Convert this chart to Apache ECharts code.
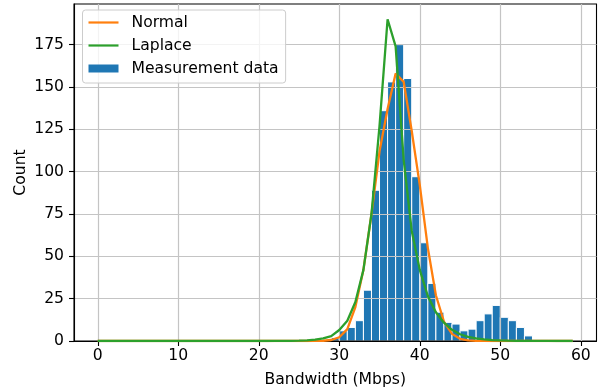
<!DOCTYPE html>
<html>
<head>
<meta charset="utf-8">
<script src="https://cdn.jsdelivr.net/npm/echarts@6/dist/echarts.min.js"></script>
<style>
  html, body { margin: 0; padding: 0; background: #fff; }
  #chart { width: 598px; height: 390px; }
</style>
</head>
<body>
<div id="chart"></div>
<script>
// Histogram bins (1 Mbps wide): left edges and counts
const binStarts = [29, 30, 31, 32, 33, 34, 35, 36, 37, 38, 39, 40, 41, 42, 43, 44, 45, 46, 47, 48, 49, 50, 51, 52, 53];
const binCounts = [2, 6, 8, 12, 30, 89, 136, 153, 175, 155, 97, 58, 34, 17, 11, 10, 6, 7, 12, 16, 21, 14, 12, 8, 3];

// Fitted curves evaluated at integer bandwidths 0..59
const xs = [0, 1, 2, 3, 4, 5, 6, 7, 8, 9, 10, 11, 12, 13, 14, 15, 16, 17, 18, 19,
            20, 21, 22, 23, 24, 25, 26, 27, 28, 29, 30, 31, 32, 33, 34, 35, 36, 37, 38, 39,
            40, 41, 42, 43, 44, 45, 46, 47, 48, 49, 50, 51, 52, 53, 54, 55, 56, 57, 58, 59];
const normalFit = [0, 0, 0, 0, 0, 0, 0, 0, 0, 0, 0, 0, 0, 0, 0, 0, 0, 0, 0, 0,
                   0, 0, 0, 0, 0, 0, 0.01, 0.03, 0.15, 0.6, 2.2, 7, 20, 42, 75, 112, 137, 158, 153, 124,
                   92, 55, 27, 11.5, 4.2, 1.3, 0.4, 0.1, 0.02, 0, 0, 0, 0, 0, 0, 0, 0, 0, 0, 0];
const laplaceFit = [0, 0, 0, 0, 0, 0, 0, 0, 0, 0, 0, 0, 0, 0, 0, 0, 0, 0, 0, 0,
                    0, 0.01, 0.03, 0.05, 0.1, 0.2, 0.4, 0.8, 1.5, 2.9, 6.5, 12, 23, 42, 75, 127, 190, 174, 107, 65,
                    42, 26.5, 17, 10.8, 6.6, 4, 2.4, 1.5, 0.9, 0.55, 0.33, 0.2, 0.12, 0.07, 0.04, 0.03, 0.02, 0.01, 0.01, 0];

const xTicks = [0, 10, 20, 30, 40, 50, 60];
const yTicks = [0, 25, 50, 75, 100, 125, 150, 175];

const FONT = 'DejaVu Sans';
const FS = 15.6;

const chart = echarts.init(document.getElementById('chart'), null, { renderer: 'canvas' });

const option = {
  animation: false,
  backgroundColor: '#ffffff',
  grid: {
    left: 74, right: 1.5, top: 4, bottom: 49,
    outerBoundsMode: 'none', containLabel: false,
    show: true, borderColor: '#000', borderWidth: 1.1, backgroundColor: 'transparent'
  },
  legend: {
    orient: 'vertical',
    left: 82.5, top: 10,
    padding: [4, 7, 6, 6],
    itemGap: 6,
    itemWidth: 30, itemHeight: 8,
    backgroundColor: 'rgba(255,255,255,0.8)',
    borderColor: '#cccccc', borderWidth: 1, borderRadius: 3,
    textStyle: { fontFamily: FONT, fontSize: FS, color: '#000', lineHeight: 17, padding: [0, 0, 0, 8] },
    data: [
      { name: 'Normal', icon: 'path://M0,0H30V2.2H0Z' },
      { name: 'Laplace', icon: 'path://M0,0H30V2.2H0Z' },
      { name: 'Measurement data', icon: 'rect' }
    ]
  },
  xAxis: {
    type: 'value',
    min: -2.95, max: 61.95,
    name: 'Bandwidth (Mbps)',
    nameLocation: 'middle', nameGap: 31, nameMoveOverlap: false,
    nameTextStyle: { fontFamily: FONT, fontSize: FS, color: '#000' },
    axisLine: { onZero: false, lineStyle: { color: '#000', width: 1.1 } },
    axisTick: { show: true, inside: false, length: 5, lineStyle: { color: '#000', width: 1.1 }, customValues: xTicks },
    axisLabel: { fontFamily: FONT, fontSize: FS, color: '#000', margin: 7, customValues: xTicks },
    splitLine: { show: true, lineStyle: { color: '#c4c4c4', width: 1.2 } }
  },
  yAxis: {
    type: 'value',
    min: 0, max: 199, interval: 25,
    name: 'Count',
    nameLocation: 'middle', nameGap: 45, nameRotate: 90, nameMoveOverlap: false,
    nameTextStyle: { fontFamily: FONT, fontSize: FS, color: '#000' },
    axisLine: { show: true, onZero: false, lineStyle: { color: '#000', width: 1.1 } },
    axisTick: { show: true, inside: false, length: 5, lineStyle: { color: '#000', width: 1.1 }, customValues: yTicks },
    axisLabel: { fontFamily: FONT, fontSize: FS, color: '#000', margin: 10, customValues: yTicks },
    splitLine: { show: true, lineStyle: { color: '#c4c4c4', width: 1.2 } }
  },
  series: [
    {
      name: 'Measurement data',
      type: 'custom',
      z: -1,
      itemStyle: { color: '#1f77b4' },
      encode: { x: [0, 1], y: 2 },
      data: binStarts.map((s, i) => [s, s + 1, binCounts[i]]),
      renderItem: function (params, api) {
        const p0 = api.coord([api.value(0), api.value(2)]);
        const p1 = api.coord([api.value(1), 0]);
        return {
          type: 'rect',
          shape: { x: p0[0], y: p0[1], width: p1[0] - p0[0], height: p1[1] - p0[1] },
          style: { fill: '#1f77b4', stroke: '#ffffff', lineWidth: 1 }
        };
      }
    },
    {
      name: 'Normal',
      type: 'line',
      z: 3,
      symbol: 'none', showSymbol: false,
      color: '#ff7f0e',
      lineStyle: { color: '#ff7f0e', width: 2.3 },
      data: xs.map((x, i) => [x, normalFit[i]])
    },
    {
      name: 'Laplace',
      type: 'line',
      z: 4,
      symbol: 'none', showSymbol: false,
      color: '#2ca02c',
      lineStyle: { color: '#2ca02c', width: 2.3 },
      data: xs.map((x, i) => [x, laplaceFit[i]])
    }
  ]
};

chart.setOption(option);
</script>
</body>
</html>
